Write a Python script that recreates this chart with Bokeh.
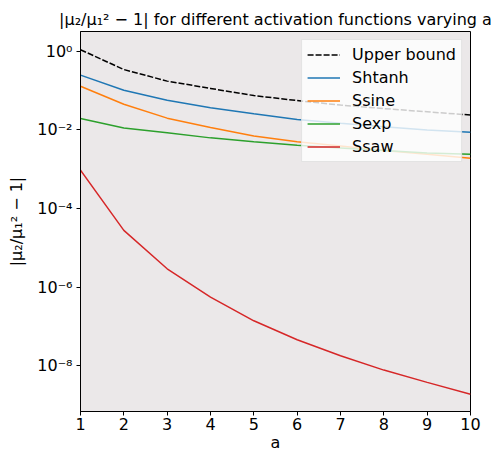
from bokeh.plotting import figure
from bokeh.models import Range1d, FixedTicker, Legend, LegendItem
from bokeh.embed import file_html
from bokeh.resources import INLINE

# ---- data ----
a_vals = [1, 2, 3, 4, 5, 6, 7, 8, 9, 10]
upper_bound = [1.1, 0.345, 0.175, 0.114, 0.075, 0.056, 0.043, 0.035, 0.029, 0.024]
shtanh = [0.248, 0.102, 0.057, 0.037, 0.026, 0.0186, 0.0148, 0.012, 0.010, 0.0087]
ssine = [0.13, 0.045, 0.020, 0.0116, 0.0070, 0.0050, 0.0039, 0.0030, 0.0024, 0.0019]
sexp = [0.0195, 0.0112, 0.0085, 0.0063, 0.0050, 0.0041, 0.0035, 0.0030, 0.0026, 0.0024]
ssaw = [9.5e-4, 2.8e-5, 2.95e-6, 5.6e-7, 1.4e-7, 4.6e-8, 1.8e-8, 7.8e-9, 3.8e-9, 1.9e-9]

series_names = ["Shtanh", "Ssine", "Sexp", "Ssaw"]
series_colors = ["#1f77b4", "#ff7f0e", "#2ca02c", "#d62728"]

x_ticks = [1, 2, 3, 4, 5, 6, 7, 8, 9, 10]
y_ticks = [1.0, 1e-2, 1e-4, 1e-6, 1e-8]
y_tick_labels = ["10⁰", "10⁻²", "10⁻⁴", "10⁻⁶", "10⁻⁸"]

title_text = "|μ₂/μ₁² − 1| for different activation functions varying a"
x_label = "a"
y_label = "|μ₂/μ₁² − 1|"

FONT = "DejaVu Sans"

p = figure(width=495, height=459, output_backend="svg", toolbar_location=None,
           y_axis_type="log",
           x_range=Range1d(1, 10), y_range=Range1d(6.9e-10, 3.2),
           min_border_left=80, min_border_right=25, min_border_top=31, min_border_bottom=48)

p.title.text = title_text
p.title.align = "center"
p.title.text_font = FONT
p.title.text_font_size = "16px"
p.title.text_font_style = "normal"
p.title.text_color = "black"
p.title.standoff = 5
p.title.offset = 0

p.background_fill_color = "#ebe8e9"
p.border_fill_color = "white"
p.outline_line_color = "black"
p.outline_line_width = 1
p.grid.visible = False

r_ub = p.line(a_vals, upper_bound, line_color="black", line_width=1.5, line_dash="6 2")
renderers = [r_ub]
for vals, col in zip([shtanh, ssine, sexp, ssaw], series_colors):
    renderers.append(p.line(a_vals, vals, line_color=col, line_width=1.5))

labels = ["Upper bound"] + series_names
legend = Legend(items=[LegendItem(label=l, renderers=[r]) for l, r in zip(labels, renderers)],
                location="top_right")
legend.label_text_font = FONT
legend.label_text_font_size = "16px"
legend.label_text_color = "black"
legend.glyph_width = 33
legend.glyph_height = 19
legend.label_height = 19
legend.label_standoff = 12
legend.spacing = 4
legend.padding = 5
legend.margin = 8
legend.background_fill_color = "white"
legend.background_fill_alpha = 0.8
legend.border_line_color = "#cccccc"
legend.border_line_width = 1
p.add_layout(legend)

for ax in (p.xaxis[0], p.yaxis[0]):
    ax.axis_line_color = "black"
    ax.major_tick_line_color = "black"
    ax.major_tick_in = 0
    ax.major_tick_out = 4
    ax.minor_tick_line_color = None
    ax.major_label_text_font = FONT
    ax.major_label_text_font_size = "16px"
    ax.major_label_text_color = "black"
    ax.axis_label_text_font = FONT
    ax.axis_label_text_font_size = "16px"
    ax.axis_label_text_font_style = "normal"
    ax.axis_label_text_color = "black"

p.xaxis.ticker = FixedTicker(ticks=x_ticks)
p.xaxis.axis_label = x_label
p.xaxis.major_label_standoff = 2
p.xaxis.axis_label_standoff = 0

p.yaxis.ticker = FixedTicker(ticks=y_ticks, minor_ticks=[])
p.yaxis.major_label_overrides = {t: l for t, l in zip(y_ticks, y_tick_labels)}
p.yaxis.axis_label = y_label
p.yaxis.major_label_standoff = 4
p.yaxis.axis_label_standoff = 8

open("out.html", "w").write(file_html(p, INLINE))
